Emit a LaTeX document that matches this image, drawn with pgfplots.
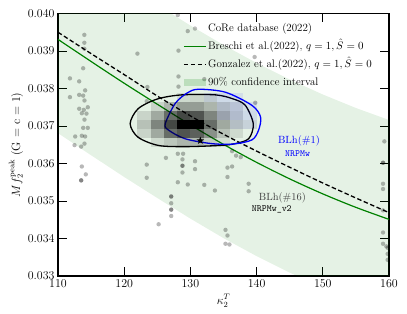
\documentclass[border=0pt]{standalone}
\usepackage{pgfplots}
\pgfplotsset{compat=1.18}
\usetikzlibrary{plotmarks}
\definecolor{mplgreen}{RGB}{0,128,0}
\pgfplotsset{
  linelegend/.style={legend image code/.code={\draw[##1] (0bp,0bp) -- (22bp,0bp);}},
  marklegend/.style={legend image code/.code={\fill[##1] (11bp,0bp) circle (2.2bp);}},
  patchlegend/.style={legend image code/.code={\fill[##1] (0bp,-3.5bp) rectangle (22bp,3.5bp);}},
}
\pgfdeclareplotmark{cell}{\pgfpathrectangle{\pgfqpoint{-6.62bp}{-4.5bp}}{\pgfqpoint{13.24bp}{9bp}}\pgfusepathqfill}
\pgfdeclareplotmark{fstar}{%
 \pgfpathmoveto{\pgfpointpolar{90}{\pgfplotmarksize}}%
 \pgfpathlineto{\pgfpointpolar{126}{0.42\pgfplotmarksize}}%
 \pgfpathlineto{\pgfpointpolar{162}{\pgfplotmarksize}}%
 \pgfpathlineto{\pgfpointpolar{198}{0.42\pgfplotmarksize}}%
 \pgfpathlineto{\pgfpointpolar{234}{\pgfplotmarksize}}%
 \pgfpathlineto{\pgfpointpolar{270}{0.42\pgfplotmarksize}}%
 \pgfpathlineto{\pgfpointpolar{306}{\pgfplotmarksize}}%
 \pgfpathlineto{\pgfpointpolar{342}{0.42\pgfplotmarksize}}%
 \pgfpathlineto{\pgfpointpolar{18}{\pgfplotmarksize}}%
 \pgfpathlineto{\pgfpointpolar{54}{0.42\pgfplotmarksize}}%
 \pgfpathclose\pgfusepathqfill}

\pgfplotstableread{
k f
113.98 0.03943
113.98 0.03922
113.98 0.03906
113.8 0.03854
111.8 0.03827
113.2 0.03819
114.1 0.03795
113.2 0.03783
113.8 0.03781
111.8 0.03777
114.0 0.03768
113.2 0.03746
114.5 0.03750
113.9 0.03743
113.6 0.03734
114.3 0.03733
114.0 0.03717
114.5 0.03695
113.8 0.03695
112.6 0.03672
113.6 0.03674
114.1 0.03672
114.0 0.03653
112.5 0.03649
113.5 0.03645
113.6 0.03592
114.2 0.03571
113.5 0.03555
113.5 0.03555
128.1 0.03996
129.6 0.03953
122.0 0.03893
128.2 0.03901
128.2 0.03832
132.1 0.03825
128.2 0.03805
123.5 0.03804
123.4 0.03766
139.7 0.03884
139.8 0.03762
136.3 0.03633
136.9 0.03621
137.6 0.03617
136.3 0.03592
135.6 0.03589
135.6 0.03564
138.8 0.03546
138.8 0.03526
132.1 0.03543
133.7 0.03528
135.3 0.03423
135.6 0.03408
135.3 0.03386
135.9 0.03384
126.3 0.03615
128.1 0.03626
128.9 0.03626
128.8 0.03611
128.8 0.03594
128.8 0.03594
128.8 0.03576
130.7 0.03606
130.7 0.03585
123.4 0.03597
123.4 0.03562
128.1 0.03550
129.6 0.03544
127.1 0.03512
127.1 0.03512
127.1 0.03494
127.1 0.03477
127.1 0.03477
127.1 0.03460
125.2 0.03438
159.3 0.03659
159.1 0.03602
159.1 0.03602
159.1 0.03546
159.1 0.03532
159.1 0.03475
159.1 0.03416
159.1 0.03386
159.6 0.03379
159.8 0.03375
159.8 0.03359
159.8 0.03343
}\coredata

\pgfplotstableread{
k f v
123 0.03704 0.20
125 0.03704 0.45
127 0.03704 0.70
129 0.03704 1.00
131 0.03704 1.00
133 0.03704 0.55
135 0.03704 0.30
137 0.03704 0.15
139 0.03704 0.06
123 0.03728 0.12
125 0.03728 0.30
127 0.03728 0.55
129 0.03728 0.70
131 0.03728 0.65
133 0.03728 0.45
135 0.03728 0.25
137 0.03728 0.12
125 0.03752 0.12
127 0.03752 0.25
129 0.03752 0.35
131 0.03752 0.35
133 0.03752 0.25
135 0.03752 0.15
137 0.03752 0.08
123 0.03680 0.12
125 0.03680 0.30
127 0.03680 0.55
129 0.03680 0.65
131 0.03680 0.60
133 0.03680 0.40
135 0.03680 0.20
137 0.03680 0.10
125 0.03656 0.10
127 0.03656 0.18
129 0.03656 0.25
131 0.03656 0.25
133 0.03656 0.15
135 0.03656 0.08
129 0.03776 0.10
131 0.03776 0.12
133 0.03776 0.10
}\blackcells

\pgfplotstableread{
k f v
133 0.03776 0.08
135 0.03776 0.10
137 0.03776 0.08
135 0.03752 0.10
137 0.03752 0.12
139 0.03752 0.08
135 0.03728 0.10
137 0.03728 0.12
139 0.03728 0.10
137 0.03704 0.08
139 0.03704 0.08
}\bluecells

\begin{document}
\begin{tikzpicture}
\begin{axis}[
  name=ax,
  scale only axis, width=331bp, height=262.5bp,
  xmin=110, xmax=160, ymin=0.033, ymax=0.040,
  xtick={110,120,130,140,150,160},
  ytick={0.033,0.034,0.035,0.036,0.037,0.038,0.039,0.040},
  scaled y ticks=false,
  yticklabel style={/pgf/number format/.cd, fixed, fixed zerofill, precision=3},
  tick align=inside, major tick length=9bp,
  every tick/.style={black, line width=0.9bp},
  axis line style={line width=1.2bp},
  tick label style={font=\fontsize{12.5}{14}\selectfont},
  xlabel={$\kappa_2^T$},
  ylabel={$Mf_2^{\rm peak}$ (G = c = 1)},
  label style={font=\fontsize{12}{14}\selectfont},
  xlabel style={at={(axis description cs:0.5,-0.094)}, anchor=center},
  ylabel style={at={(axis description cs:-0.127,0.5)}, anchor=center},
  legend style={at={(rel axis cs:0.378,0.970)}, anchor=north west, draw=none, fill=none,
    font=\fontsize{11}{13}\selectfont, row sep=4bp, inner sep=0pt,
    nodes={text height=8.5bp, text depth=2.5bp, inner sep=1.5bp}},
  legend cell align=left,
]
% legend entries
\addlegendimage{marklegend, draw=none, fill=black, fill opacity=0.25}
\addlegendentry{CoRe database (2022)}
\addlegendimage{linelegend, mplgreen, line width=1.2bp}
\addlegendentry{Breschi et al.(2022), $q=1, \hat{S}=0$}
\addlegendimage{linelegend, black, line width=1.3bp, dash pattern=on 4.5bp off 2.5bp}
\addlegendentry{Gonzalez et al.(2022), $q=1, \hat{S}=0$}
\addlegendimage{patchlegend, draw=none, fill=mplgreen, fill opacity=0.18}
\addlegendentry{90\% confidence interval}

% confidence band
\addplot[fill=mplgreen, fill opacity=0.1, draw=none, forget plot] coordinates {
(110,0.04196) (115,0.04137) (120,0.04079) (125,0.04023) (130,0.03968) (135,0.03916)
(140,0.03868) (145,0.03824) (150,0.03784) (155,0.03748) (160,0.03716)
(160,0.03201) (155,0.03233) (150,0.03269) (145,0.03309) (140,0.03353) (135,0.03401)
(130,0.03453) (125,0.03508) (120,0.03564) (115,0.03622) (110,0.03681)};

% scatter
\addplot[only marks, mark=*, mark size=2.2bp, black, mark options={draw opacity=0, fill=black, fill opacity=0.28}, forget plot]
 table[x=k, y=f] {\coredata};

% heatmaps
\addplot[scatter, only marks, mark=cell, point meta=\thisrow{v},
  visualization depends on={\thisrow{v} \as \cellv},
  scatter/@pre marker code/.code={\pgfscope\pgfsetfillopacity{\cellv}\pgfsetfillcolor{blue}},
  scatter/@post marker code/.code={\endpgfscope}, forget plot]
 table[x=k, y=f] {\bluecells};
\addplot[scatter, only marks, mark=cell, point meta=\thisrow{v},
  visualization depends on={\thisrow{v} \as \cellv},
  scatter/@pre marker code/.code={\pgfscope\pgfsetfillopacity{\cellv}\pgfsetfillcolor{black}},
  scatter/@post marker code/.code={\endpgfscope}, forget plot]
 table[x=k, y=f] {\blackcells};

% fits
\addplot[mplgreen, line width=1.2bp, smooth, forget plot] coordinates {
(110,0.03931) (115,0.03872) (120,0.03814) (125,0.03758) (130,0.03703) (135,0.03651)
(140,0.03603) (145,0.03559) (150,0.03519) (155,0.03483) (160,0.03451)};
\addplot[black, line width=1.3bp, dash pattern=on 4.5bp off 2.5bp, smooth, forget plot] coordinates {
(110,0.03950) (115,0.03893) (120,0.03837) (125,0.03780) (130,0.03727) (135,0.03678)
(140,0.03633) (145,0.03590) (150,0.03548) (155,0.03508) (160,0.03469)};

% contours
\addplot[black, line width=1.3bp, smooth cycle, forget plot] coordinates {
(120.9,0.03706) (122.1,0.03746) (125,0.03772) (128.7,0.03783) (133.8,0.03783)
(136.5,0.03772) (138.3,0.03755) (139.5,0.03706) (138.8,0.03666) (136.5,0.03652)
(134.2,0.03648) (129.5,0.03645) (125.2,0.03648) (122.1,0.03670)};
\addplot[blue, line width=1.3bp, smooth cycle, forget plot] coordinates {
(126.2,0.03706) (127.7,0.03760) (129.5,0.03788) (131.2,0.03798) (135.3,0.03790)
(139.3,0.03755) (140.6,0.03724) (140.3,0.03689) (139.3,0.03663) (136.5,0.03652)
(133.2,0.03653) (129.2,0.03666) (126.7,0.03689)};

% star
\addplot[only marks, mark=fstar, mark size=4bp, mark options={fill=black, draw=none}, forget plot]
 coordinates {(131.5,0.03661)};

\node[blue, font=\fontsize{10.5}{12}\selectfont] at (axis cs:146.4,0.03660) {BLh(\#1)};
\node[blue, font=\fontsize{9.5}{11}\ttfamily] at (axis cs:146.2,0.03627) {NRPMw};
\node[black!75, font=\fontsize{10.5}{12}\selectfont] at (axis cs:143.9,0.03508) {BLh(\#16)};
\node[black, font=\fontsize{9.5}{11}\ttfamily] at (axis cs:142.3,0.03479) {NRPMw\_v2};
\end{axis}
\pgfresetboundingbox
\path[use as bounding box] ([xshift=-58bp,yshift=-38bp]ax.south west) rectangle ([xshift=18bp,yshift=13.5bp]ax.north east);
\end{tikzpicture}
\end{document}
